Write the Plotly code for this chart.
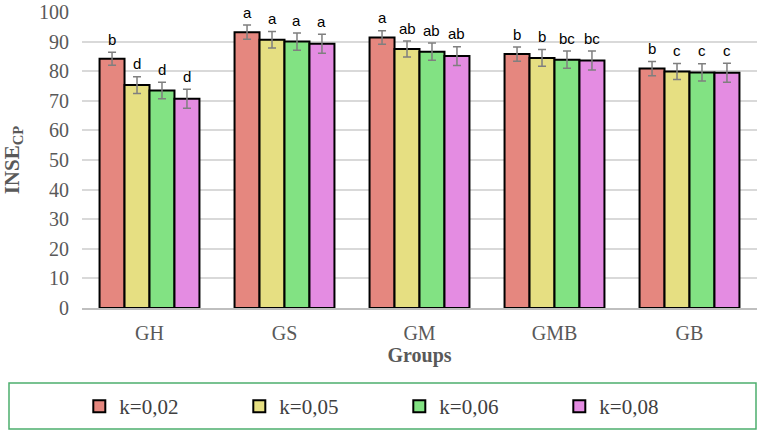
import plotly.graph_objects as go

groups = ["GH", "GS", "GM", "GMB", "GB"]
series_names = ["k=0,02", "k=0,05", "k=0,06", "k=0,08"]

k002 = [84.2, 93.2, 91.4, 85.8, 80.9]
k005 = [75.3, 90.6, 87.5, 84.5, 79.9]
k006 = [73.5, 90.0, 86.6, 83.9, 79.6]
k008 = [70.7, 89.3, 85.1, 83.6, 79.5]

err002 = [2.2, 2.4, 2.3, 2.4, 2.4]
err005 = [2.8, 2.8, 2.7, 2.8, 2.7]
err006 = [2.8, 2.9, 2.9, 2.9, 2.9]
err008 = [3.2, 3.2, 3.2, 3.2, 3.2]

let002 = ["b", "a", "a", "b", "b"]
let005 = ["d", "a", "ab", "b", "c"]
let006 = ["d", "a", "ab", "bc", "c"]
let008 = ["d", "a", "ab", "bc", "c"]

values = [k002, k005, k006, k008]
errors = [err002, err005, err006, err008]
letters = [let002, let005, let006, let008]
colors = ["#e5877f", "#e6df82", "#82e283", "#e48ce2"]

SERIF = "Liberation Serif"
SANS = "Liberation Sans"
GAP = 0.26
W, H = 762, 432
ML, MR, MT, MB = 82, 5, 12, 124

fig = go.Figure()
for i in range(4):
    fig.add_trace(go.Bar(
        x=groups, y=values[i], name=series_names[i],
        offsetgroup=str(i),
        marker=dict(color=colors[i], line=dict(color="#000000", width=2)),
        error_y=dict(type="data", array=errors[i], color="#7f7f7f",
                     thickness=1.5, width=4),
    ))

# significance letters above the error bars
cat_px = (W - ML - MR) / len(groups)
bar_px = cat_px * (1 - GAP) / 4
annotations = []
for i in range(4):
    shift = (i - 1.5) * bar_px
    for g, v, e, t in zip(groups, values[i], errors[i], letters[i]):
        annotations.append(dict(
            x=g, y=v + e + 0.8, xref="x", yref="y", text=t, showarrow=False,
            xshift=shift, yanchor="bottom", xanchor="center",
            font=dict(family=SANS, size=15, color="#000000")))

fig.update_layout(
    template="none",
    width=W, height=H,
    font=dict(family=SERIF, color="#404040"),
    margin=dict(l=ML, r=MR, t=MT, b=MB),
    paper_bgcolor="white", plot_bgcolor="white",
    barmode="group", bargap=GAP, bargroupgap=0,
    showlegend=True,
    legend=dict(orientation="h", x=-0.004, xanchor="left",
                y=-0.333, yanchor="middle",
                font=dict(family=SERIF, size=21, color="#404040"),
                entrywidth=115, entrywidthmode="pixels",
                bgcolor="rgba(0,0,0,0)", borderwidth=0),
    annotations=annotations,
    shapes=[dict(type="rect", xref="paper", yref="paper",
                 x0=(9 - ML) / (W - ML - MR), x1=(756 - ML) / (W - ML - MR),
                 y0=(308 - 429) / 296, y1=(308 - 383) / 296,
                 line=dict(color="#4caf6e", width=1.5), fillcolor="rgba(0,0,0,0)")],
)
fig.update_xaxes(
    showgrid=False, showline=True, linecolor="#bfbfbf", linewidth=2,
    ticks="", tickfont=dict(family=SERIF, size=20, color="#595959"),
    ticklabelstandoff=6,
    title=dict(text="<b>Groups</b>", font=dict(family=SERIF, size=20, color="#595959"),
               standoff=4),
)
fig.update_yaxes(
    range=[0, 100], dtick=10, showgrid=True, gridcolor="#d9d9d9", gridwidth=1.5,
    zeroline=False, showline=False, ticks="",
    tickfont=dict(family=SERIF, size=20, color="#595959"),
    ticklabelstandoff=12,
    title=dict(text="<b>INSE<sub>CP</sub></b>", font=dict(family=SERIF, size=21, color="#595959"),
               standoff=14),
)
fig.write_html("out.html")
